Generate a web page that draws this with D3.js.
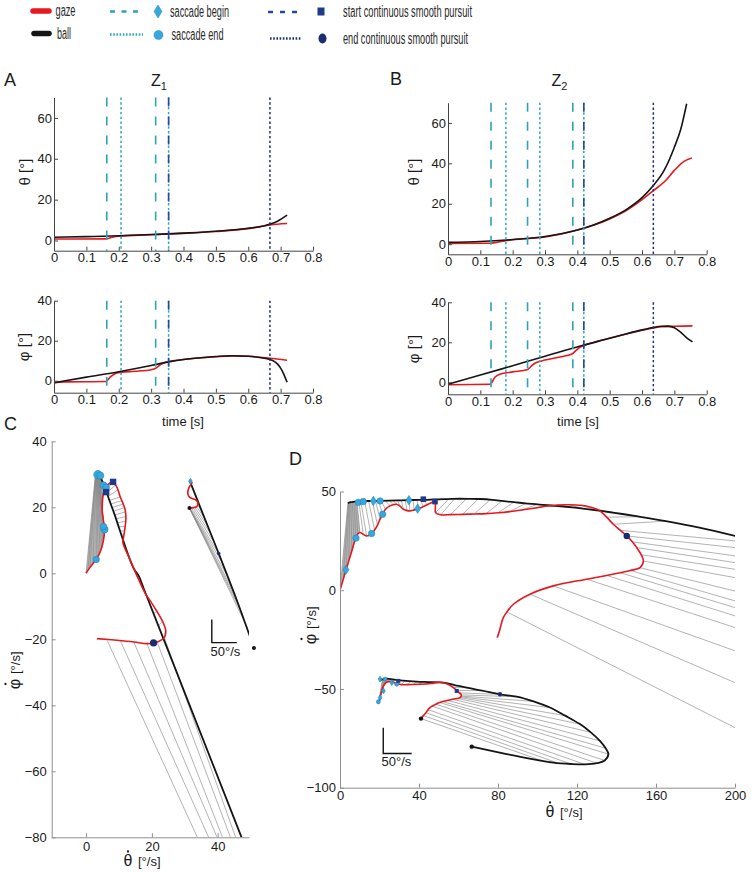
<!DOCTYPE html>
<html><head><meta charset="utf-8">
<script src="https://cdn.jsdelivr.net/npm/d3@7"></script>
<style>body{margin:0;background:#fff}svg{display:block}</style>
</head><body>
<script>
// ================= DATA =================
const tickTimes=[0,0.1,0.2,0.3,0.4,0.5,0.6,0.7,0.8];
const thetaTicks=[0,20,40,60];
const phiTicks=[0,20,40];
const velTicksCx=[0,20,40];
const velTicksCy=[-80,-60,-40,-20,0,20,40];
const velTicksDx=[0,40,80,120,160,200];
const velTicksDy=[-100,-50,0,50];

// ---- Z1 (panel A) time series [t, deg]
const thetaBallA=[[0,1.6],[0.1,1.9],[0.2,2.3],[0.3,2.9],[0.4,3.6],[0.5,4.5],[0.6,6],[0.65,7.2],[0.69,9.4],[0.72,12.4]];
const thetaGazeA=[[0,0.7],[0.16,0.8],[0.18,1.6],[0.2,2.1],[0.3,2.8],[0.4,3.5],[0.5,4.4],[0.6,5.8],[0.667,7.6],[0.72,8.3]];
const phiBallA=[[0,-1],[0.1,1.8],[0.2,4.5],[0.3,7.6],[0.35,9.3],[0.4,10.6],[0.5,12.1],[0.55,12.5],[0.6,12.2],[0.64,11.5],[0.667,10.6],[0.68,9.7],[0.69,8.4],[0.7,6.3],[0.71,3.2],[0.72,-0.8]];
const phiGazeA=[[0,-1],[0.03,-0.6],[0.16,-0.4],[0.175,2],[0.19,3.6],[0.21,4.3],[0.25,4.7],[0.3,5.5],[0.315,6.3],[0.33,8.2],[0.345,9.2],[0.4,10.6],[0.5,12],[0.55,12.4],[0.6,12.2],[0.667,11.2],[0.72,10.2]];
const saccBeginA=[0.163,0.314];
const saccEndA=[0.207,0.354];
const pursuitStartA=[0.354];
const pursuitEndA=[0.667];

// ---- Z2 (panel B) time series
const thetaBallB=[[0,0.9],[0.1,1.3],[0.2,2.3],[0.3,3.8],[0.4,7],[0.45,9.5],[0.5,12.8],[0.55,17],[0.6,23],[0.635,29],[0.67,37],[0.7,48],[0.72,57],[0.738,69.5]];
const thetaGazeB=[[0,0.4],[0.13,0.5],[0.17,1.5],[0.2,2.2],[0.3,3.6],[0.4,7],[0.5,12.5],[0.55,16.5],[0.6,22],[0.635,26.5],[0.67,31],[0.7,36.5],[0.73,41],[0.754,42.6]];
const phiBallB=[[0,-1],[0.1,3.6],[0.2,8.3],[0.3,13],[0.42,18.6],[0.5,22],[0.55,24.2],[0.6,26.2],[0.635,27.4],[0.66,28],[0.68,28.1],[0.7,27.3],[0.72,25],[0.74,22],[0.756,20.2]];
const phiGazeB=[[0,-1.2],[0.13,-1],[0.145,2.5],[0.16,4],[0.2,5.2],[0.245,6.3],[0.26,8.5],[0.275,10],[0.29,10.7],[0.35,12.8],[0.385,14.3],[0.395,15.8],[0.41,17.8],[0.425,18.7],[0.5,22],[0.6,26],[0.635,27.2],[0.66,27.8],[0.7,28],[0.756,28.2]];
const saccBeginB=[0.133,0.246,0.386];
const saccEndB=[0.179,0.284,0.42];
const pursuitStartB=[0.42];
const pursuitEndB=[0.635];

// ---- Panel C, trial 1 (velocities, deg/s)
const gazeC1=[[0,0],[1.2,1.8],[3.1,4.2],[4.3,6.5],[5.2,9.5],[5.6,13.3],[5.2,16.5],[4.9,19.1],[5.1,23.1],[5.6,25.3],[6.3,26.4],[7.2,27.3],[8.2,27.7],[9.5,25.8],[10.4,23.1],[11.3,21],[11.9,19.1],[12.1,16.5],[11.8,13.5],[11.4,11],[11.2,9.3],[13.2,4.5],[15.8,-1.5],[18.2,-6.5],[19.6,-8.5],[21.5,-11.5],[23.2,-14.5],[24.2,-17.3],[23.8,-19.5],[21.6,-20.8],[20.5,-21.1],[18.5,-21.3],[14.5,-20.8],[9.4,-20.3],[3.3,-19.8]];
const ballC1=[[2.8,29.4],[3.4,29.9],[4.1,29.5],[4.6,28.6],[5.4,26.8],[6.3,24.4],[7.1,22.1],[7.9,19.9],[8.7,17.7],[9.5,15.3],[10.3,12.9],[11.1,10.5],[13,5.0],[14.5,1.4],[16,-0.8],[17.5,-4.6],[19,-8.4],[22,-16],[25,-23.6],[47,-79.4],[49,-84.5]];
const linksC1=[[0,0,2.8,29.4],[0.6,0.9,2.85,29.45],[1.2,1.8,2.9,29.5],[2.1,3,2.95,29.55],[3.1,4.2,3.0,29.6],[3.7,5.3,3.05,29.65],[4.3,6.5,3.1,29.7],[4.8,8,3.15,29.75],[5.2,9.5,3.2,29.8],[5.45,11.4,3.3,29.85],[5.6,13.3,3.4,29.9],[5.4,15,3.5,29.9],[5.2,16.5,3.6,29.9],[5.0,17.8,3.7,29.85],[4.9,19.1,3.8,29.8],[4.95,21,3.95,29.7],[5.1,23.1,4.1,29.5],[5.4,24.5,4.3,29.2],[5.6,25.3,4.6,28.6],
[7.2,27.3,5.4,26.8],[8.2,27.7,5.9,25.6],[9.0,26.8,6.3,24.4],[9.7,25.3,6.7,23.3],[10.4,23.1,7.1,22.1],[10.9,22,7.5,21],[11.3,21,7.9,19.9],[11.7,19.9,8.3,18.8],[11.9,18.6,8.7,17.7],[12.1,17.2,9.1,16.5],[12.1,15.8,9.5,15.3],[11.9,14.2,9.9,14.1],[11.7,12.8,10.3,12.9],[11.5,11.6,10.7,11.7],[11.3,10.3,11.1,10.5],
[13.2,4.5,13,5.0],[15.8,-1.5,15.5,0.4],[18.2,-6.5,17.5,-4.6],[19.6,-8.5,19,-8.4],[21.5,-11.5,20.5,-12.2],[23.2,-14.5,22,-16],[24.2,-17.3,23.5,-19.8],
[23.8,-19.5,50.8,-95],[21.6,-20.8,49.5,-95],[18.5,-21.3,47.3,-95],[14.5,-20.8,46.2,-95],[10.4,-20.4,44,-95],[6.4,-20.3,40.7,-95]];
const bandC1=19;
// ---- Panel C, trial 2 (inset, scale bar 50 deg/s)
const gazeC2=[[32.3,27.6],[31.2,25.8],[30.9,24.2],[31.5,23],[33.2,22.3],[34.0,21.3],[33.6,20.2],[32.5,19.9],[31.4,19.8]];
const ballC2=[[31.6,27.8],[35,19.2],[40.3,6],[46,-8.7],[51,-22.6]];
const linksC2=[[33.6,21.2,34.2,21.5],[33.9,20.6,35.2,19],[33.5,20.2,36.2,16.5],[33.0,20.0,37.2,14],[32.5,19.9,38.2,11.5],[32.0,19.85,39.2,8.9],[31.6,19.8,40.3,6],[31.4,19.8,41.5,3],[31.4,19.8,43,-1],[31.4,19.8,44.5,-5],[31.4,19.8,46,-8.7],[31.4,19.8,47.5,-12.5],[31.4,19.8,49,-16.5]];
const markersC=[
 {k:'se',x:3.6,y:29.9,r:4.2},{k:'se',x:4.3,y:29.6,r:3.6},{k:'se',x:5.3,y:26.7,r:3.4},{k:'se',x:6.1,y:26.0,r:3.4},
 {k:'ps',x:6.1,y:24.6,r:3.2},{k:'ps',x:8.2,y:27.7,r:3.2},{k:'se',x:5.6,y:13.3,r:3.6},{k:'se',x:5.3,y:14.2,r:3.2},
 {k:'se',x:3.1,y:4.2,r:3.2},{k:'pe',x:20.5,y:-21.1,r:3.6},
 {k:'sb',x:31.7,y:27.9,r:2},{k:'pe',x:40.3,y:6,r:1.8},{k:'dot',x:31.4,y:19.8,r:2},{k:'dot',x:51,y:-22.6,r:2}];
const scaleBarC=[[38.2,-14],[38.2,-21],[45.8,-21]];

// ---- Panel D, trial 1
const gazeD1=[[0,0],[1.5,5],[3,10.1],[4.5,15],[6,20],[7.2,24],[8.1,26.6],[9,28.5],[10.1,29.2],[11.8,28.3],[13.5,27.5],[15.7,28.3],[17.5,30.5],[19,33],[20.3,36],[21.6,38.5],[23,41],[25.3,42.7],[27,43.3],[28.7,43.5],[30.5,42.5],[32.1,41],[34,40.3],[35.4,40.2],[37.5,40.7],[39.7,41.3],[42,42.3],[43.9,43.2],[46,44.2],[48.1,45],[48.3,42],[48.4,39.3],[51,38.2],[56,38.3],[62,38.4],[68,38.6],[74,38.8],[80,39.2],[86,39.8],[92,40.6],[98,41.5],[104,42.5],[110,43.2],[116,43.3],[122,43],[127,42],[131.6,40.2],[135,37],[138.4,33.4],[142,30.3],[145.2,27.5],[148,24.5],[150.2,21.6],[152.5,18],[153.6,14.8],[151.9,11.4],[147,10],[141.8,8.9],[135,7.5],[124.9,5.6],[108,2.2],[96.2,-2],[87.8,-7.1],[84.5,-11],[82.7,-13.9],[80.7,-20.6],[79.6,-24]];
const ballD1=[[4,44],[4.6,44.4],[5.5,44.6],[7,44.8],[8.6,45],[10.5,45.1],[14.5,45.2],[19.5,45.3],[25,45.4],[31,45.5],[37,45.7],[43,45.8],[48,46],[52,46.1],[57,46.3],[65,46.3],[71,46.2],[77,45.8],[83,45.1],[89,44.5],[95,43.9],[101,43.4],[107,42.9],[113,42.4],[119,41.8],[125,41.1],[131,40.3],[137,39.5],[143,38.6],[150,37.5],[165,35],[182,31.7],[200,27.5]];
const linksD1=[[0,0,4,44],[1.5,5,4.3,44.2],[3,10.1,4.6,44.4],[4.5,15,5,44.5],[6,20,5.5,44.6],[7.2,24,6.2,44.7],[8.1,26.6,7,44.8],[9,28.5,7.8,44.9],[10.1,29.2,8.6,45],
[11.8,28.3,9.5,45],[13.5,27.5,10.5,45.1],[15.7,28.3,12.5,45.1],[17.5,30.5,14.5,45.2],[19,33,16.3,45.2],[20.3,36,18,45.2],[21.6,38.5,19.5,45.3],[23,41,21,45.3],[25.3,42.7,23,45.4],[27,43.3,25,45.4],[28.7,43.5,27,45.5],[30.5,42.5,29,45.5],[32.1,41,31,45.5],[34,40.3,33,45.6],[35.4,40.2,35,45.6],[37.5,40.7,37,45.7],[39.7,41.3,39,45.7],[42,42.3,41,45.8],[43.9,43.2,43,45.8],
[48.4,39.3,55,46.2],[51,38.2,58,46.3],[56,38.3,64,46.3],[62,38.4,70,46.2],[68,38.6,76,45.9],[74,38.8,82,45.2],[80,39.2,88,44.6],[86,39.8,94,44],[92,40.6,100,43.5],[98,41.5,106,43],
[104,42.5,112,42.5],[110,43.2,118,41.9],[116,43.3,124,41.2],[122,43,130,40.4],[127,42,136,39.6],[131.6,40.2,143,38.6],[135,37,152,37.2],[138.4,33.4,165,35],[142,30.3,200,25],[145.2,27.5,200,21.6],[148,24.5,200,17.4],[150.2,21.6,200,14],[152.5,18,200,10.6],[153.6,14.8,200,6.4],[151.9,11.4,200,-0.4],[147,10,200,-5.4],[141.8,8.9,200,-8.8],[135,7.5,200,-13],[124.9,5.6,200,-18.9],[108,2.2,200,-30.7],[96.2,-2,200,-46.8],[84.5,-11,200,-69.6]];
const bandD1=9;
// ---- Panel D, trial 2 (inset, scale bar 50 deg/s)
const gazeD2=[[19.4,-57.5],[20.3,-54.4],[21,-51.5],[22,-48.5],[23.5,-46.6],[26,-46.3],[28.7,-47.2],[31,-47.8],[34,-47.8],[40,-47.6],[46,-47.2],[50.6,-46.6],[54,-47.4],[57.4,-49.3],[59.5,-51.2],[61.4,-53],[60.8,-54.4],[57,-55.2],[52,-56.4],[48.5,-57.7],[45.5,-59.5],[43.5,-62],[42.2,-63.5],[41,-65]];
const ballD2=[[20.5,-45.5],[22,-45],[24,-44.8],[27,-45.2],[30.4,-45.6],[38.8,-46.3],[45,-46.5],[52.3,-46.8],[58,-48],[64.1,-49.3],[72,-50.8],[81,-52.7],[89.5,-53.9],[98,-56.3],[106.3,-59.4],[114,-63.5],[121.5,-67.8],[127,-72],[131.6,-76.3],[134.5,-80],[135.9,-83],[134,-86.2],[130,-87.6],[124,-88.2],[117,-88],[108,-87.3],[96,-85.3],[84.4,-83],[66.7,-79.2]];
const linksD2=[[19.4,-57.5,21.5,-45],[20,-55.5,22,-45],[20.5,-53.5,22.5,-44.9],[21,-51.5,23,-44.8],[21.5,-50,23.5,-44.8],[22,-48.5,24,-44.8],[23,-47.2,25,-45],[24.5,-46.5,26,-45.1],
[26,-46.3,28,-45.3],[28.7,-47.2,30.4,-45.6],[31,-47.8,33,-45.8],[34,-47.8,36,-46],[37,-47.7,39,-46.3],[40,-47.6,42,-46.4],[43,-47.4,45,-46.5],[46,-47.2,48,-46.6],[48.5,-46.9,51,-46.7],
[50.6,-46.6,54,-47.2],[54,-47.4,58,-48],[57.4,-49.3,64,-49.3],[59,-50.8,72,-50.8],[60.5,-52,81,-52.7],[61.3,-53,90,-54],[61.4,-53.6,98,-56.3],[61.2,-54,106,-59.4],[60.8,-54.4,114,-63.5],[59.5,-54.8,121.5,-67.8],[57,-55.2,127,-72],[54.5,-55.8,131.6,-76.3],[52,-56.4,134.5,-80],[50.6,-56.9,135.9,-83],[48.5,-57.7,134,-86.2],[46.5,-58.6,130,-87.6],[44.7,-60.5,124,-88.2],[43.5,-62,117,-88],[42.3,-63.5,110,-87.4],[41,-65,102,-86.2]];
const bandD2=8;
const markersD=[
 {k:'sb',x:3,y:10.4,r:3.2},{k:'se',x:8.1,y:26.4,r:3.2},{k:'se',x:9.3,y:44.5,r:3.2},{k:'se',x:11.8,y:44.9,r:3.2},
 {k:'sb',x:16.9,y:45.2,r:3.2},{k:'se',x:20.3,y:45.2,r:3.2},{k:'se',x:16,y:28.7,r:3.2},{k:'se',x:21.6,y:38.5,r:3.2},
 {k:'sb',x:34.9,y:45.6,r:3.2},{k:'sb',x:39.3,y:41.3,r:3.2},{k:'ps',x:42.2,y:46.1,r:2.8},{k:'ps',x:48.1,y:44.9,r:2.8},{k:'pe',x:145.2,y:27.5,r:3.2},
 {k:'sb',x:20.3,y:-45,r:2},{k:'se',x:22.8,y:-45,r:2},{k:'sb',x:26.2,y:-46.8,r:2},{k:'se',x:28.7,y:-47.6,r:2},{k:'sb',x:20.3,y:-54.4,r:2},{k:'se',x:19.4,y:-56.5,r:2},{k:'sb',x:22,y:-51,r:2},
 {k:'ps',x:29.5,y:-45.9,r:2},{k:'ps',x:59.1,y:-51,r:2},{k:'pe',x:81,y:-52.7,r:2.2},{k:'dot',x:41,y:-65,r:2.2},{k:'dot',x:66.7,y:-79.2,r:2.2}];
const scaleBarD=[[21.9,-69.6],[21.9,-82.7],[36.3,-82.7]];

// ================= STYLE =================
const FONT='"Liberation Sans", Arial, Helvetica, sans-serif';
const NARROW='"Liberation Sans Narrow","Arial Narrow","Liberation Sans",Arial,sans-serif';
const RED='#e3191f', BLACK='#151515', SB='#2fa3b6', SE='#2fa8c2', PS='#25489c', PE='#1c2f80';
const MLB='#37a7dd', MLBS='#1f86b8', MNAVY='#1f3a88', MNAVYC='#1b2d70';

const W=753,H=872;
const svg=d3.select('body').append('svg').attr('width',W).attr('height',H).attr('font-family',FONT);

function diamondPath(cx,cy,w,h){return `M${cx},${cy-h}L${cx+w},${cy}L${cx},${cy+h}L${cx-w},${cy}Z`;}
function drawMarker(g,m,x,y){
  const cx=x(m.x),cy=y(m.y),r=m.r;
  if(m.k==='sb') g.append('path').attr('d',diamondPath(cx,cy,r*0.95,r*1.45)).attr('fill',MLB).attr('stroke',MLBS).attr('stroke-width',0.6);
  else if(m.k==='se') g.append('circle').attr('cx',cx).attr('cy',cy).attr('r',r).attr('fill',MLB).attr('stroke',MLBS).attr('stroke-width',0.6);
  else if(m.k==='ps') g.append('rect').attr('x',cx-r).attr('y',cy-r).attr('width',2*r).attr('height',2*r).attr('fill',MNAVY);
  else if(m.k==='pe') g.append('circle').attr('cx',cx).attr('cy',cy).attr('r',r).attr('fill',MNAVYC);
  else g.append('circle').attr('cx',cx).attr('cy',cy).attr('r',r).attr('fill',BLACK);
}

// ================= LEGEND =================
const lg=svg.append('g');
function lgLine(x1,x2,yv,color,w,dash,cap){lg.append('line').attr('x1',x1).attr('x2',x2).attr('y1',yv).attr('y2',yv).attr('stroke',color).attr('stroke-width',w).attr('stroke-dasharray',dash||null).attr('stroke-linecap',cap||'butt');}
function lgText(xv,yv,t,len){lg.append('text').attr('x',xv).attr('y',yv).attr('font-family',NARROW).attr('font-size',16).attr('fill','#2a2a2a').attr('textLength',len).attr('lengthAdjust','spacingAndGlyphs').text(t);}
lgLine(33,49,11,RED,5.5,null,'round'); lgText(55.5,16,'gaze',20);
lgLine(34,49,33.5,BLACK,5.5,null,'round'); lgText(57,38.5,'ball',14);
lgLine(110,143,11.5,SB,2.6,'5,6.5'); lg.append('path').attr('d',diamondPath(158,11.5,4,6.5)).attr('fill',MLB).attr('stroke',MLBS).attr('stroke-width',0.5); lgText(170,16.5,'saccade begin',59);
lgLine(110,143,34.5,SE,2.6,'1.6,1.6'); lg.append('circle').attr('cx',158.5).attr('cy',35).attr('r',4.5).attr('fill',MLB).attr('stroke',MLBS).attr('stroke-width',0.5); lgText(171.5,40,'saccade end',52);
lgLine(268,301,12,PS,2.6,'5,7'); lg.append('rect').attr('x',317.5).attr('y',7.5).attr('width',7).attr('height',8).attr('fill',MNAVY); lgText(343,17,'start continuous smooth pursuit',129);
lgLine(270,301,38.5,PE,2.6,'1.6,1.6'); lg.append('ellipse').attr('cx',322.5).attr('cy',38.5).attr('rx',4).attr('ry',5).attr('fill',MNAVYC); lgText(343,44,'end continuous smooth pursuit',125);

// ================= TIME SERIES =================
const fmtT=d=>d===0?'0':d3.format('.1f')(d);
function styleAxis(a,color){
  a.attr('font-family',FONT).attr('font-size',13);
  a.selectAll('path.domain').attr('stroke',color).attr('stroke-width',1);
  a.selectAll('.tick line').attr('stroke',color);
  a.selectAll('.tick text').attr('fill','#1a1a1a');
}
function tsPanel(xr,yd,yr,yt,gaze,ball,vl){
  const x=d3.scaleLinear().domain([0,0.8]).range(xr);
  const y=d3.scaleLinear().domain(yd).range(yr);
  const g=svg.append('g');
  const line=d3.line().x(d=>x(d[0])).y(d=>y(d[1])).curve(d3.curveMonotoneX);
  g.append('path').attr('d',line(gaze)).attr('fill','none').attr('stroke',RED).attr('stroke-width',1.6);
  g.append('path').attr('d',line(ball)).attr('fill','none').attr('stroke',BLACK).attr('stroke-width',1.6);
  vl.forEach(v=>v.times.forEach(t=>{
    g.append('line').attr('x1',x(t)).attr('x2',x(t)).attr('y1',y(yd[1])).attr('y2',y(yd[0]))
     .attr('stroke',v.color).attr('stroke-width',v.w).attr('stroke-dasharray',v.dash);
  }));
  const xa=g.append('g').attr('transform',`translate(0,${yr[0]})`)
    .call(d3.axisBottom(x).tickValues(tickTimes).tickFormat(fmtT).tickSizeInner(-4).tickSizeOuter(0).tickPadding(2));
  const ya=g.append('g').attr('transform',`translate(${xr[0]},0)`)
    .call(d3.axisLeft(y).tickValues(yt).tickSizeInner(-4).tickSizeOuter(0).tickPadding(2));
  styleAxis(xa,'#444'); styleAxis(ya,'#444');
  return {x,y,g};
}
function vlines(sb,se,ps,pe){
  return [
    {times:sb,color:SB,w:1.6,dash:'9,10'},
    {times:se,color:SE,w:1.5,dash:'2.4,2.4'},
    {times:ps,color:PS,w:1.6,dash:'9,10'},
    {times:pe,color:PE,w:1.5,dash:'2.4,2.4'}];
}
tsPanel([54,313],[-5,70],[250.7,97.5],thetaTicks,thetaGazeA,thetaBallA,vlines(saccBeginA,saccEndA,pursuitStartA,pursuitEndA));
tsPanel([54,313],[-6,40],[392.7,300.7],phiTicks,phiGazeA,phiBallA,vlines(saccBeginA,saccEndA,pursuitStartA,pursuitEndA));
tsPanel([448,706.7],[-5,70],[254.3,102.7],thetaTicks,thetaGazeB,thetaBallB,vlines(saccBeginB,saccEndB,pursuitStartB,pursuitEndB));
tsPanel([448,706.7],[-6,40],[394.3,302.3],phiTicks,phiGazeB,phiBallB,vlines(saccBeginB,saccEndB,pursuitStartB,pursuitEndB));

// labels for time series
function txt(xv,yv,t,size,anchor,rot){
  const e=svg.append('text').attr('x',xv).attr('y',yv).attr('font-size',size).attr('fill','#1a1a1a').attr('text-anchor',anchor||'start');
  if(rot) e.attr('transform',`rotate(-90,${xv},${yv})`);
  e.text(t); return e;
}
txt(4,86,'A',18); txt(390,85,'B',18);
txt(151,86,'Z',16).append('tspan').attr('font-size',11).attr('dy',4).text('1');
txt(551.5,86,'Z',16).append('tspan').attr('font-size',11).attr('dy',4).text('2');
txt(30,172,'θ  [°]',15,'middle',true);
txt(29,347,'φ  [°]',15,'middle',true);
txt(419,172,'θ  [°]',15,'middle',true);
txt(419,349,'φ  [°]',15,'middle',true);
txt(183,426,'time [s]',13,'middle');
txt(578,426,'time [s]',13,'middle');

// ================= PHASE PLOTS =================
function phasePanel(id,xd,xr,yd,yr,xt,yt,padX,padY){
  const x=d3.scaleLinear().domain(xd).range(xr);
  const y=d3.scaleLinear().domain(yd).range(yr);
  const g=svg.append('g');
  svg.append('clipPath').attr('id',id).append('rect').attr('x',xr[0]).attr('y',yr[1]).attr('width',xr[1]-xr[0]).attr('height',yr[0]-yr[1]);
  const inner=g.append('g').attr('clip-path',`url(#${id})`);
  const xa=g.append('g').attr('transform',`translate(0,${yr[0]})`)
    .call(d3.axisBottom(x).tickValues(xt).tickSizeInner(-4).tickSizeOuter(0).tickPadding(padX));
  const ya=g.append('g').attr('transform',`translate(${xr[0]},0)`)
    .call(d3.axisLeft(y).tickValues(yt).tickSizeInner(-4).tickSizeOuter(0).tickPadding(padY));
  styleAxis(xa,'#8f8f8f'); styleAxis(ya,'#8f8f8f');
  return {x,y,g,inner};
}
function trajectory(P,gaze,ball,links,bandN){
  const {x,y,inner}=P;
  if(bandN>0){
    const b=links.slice(0,bandN);
    const pts=b.map(l=>[x(l[0]),y(l[1])]).concat(b.slice().reverse().map(l=>[x(l[2]),y(l[3])]));
    inner.append('path').attr('d',d3.line()(pts)+'Z').attr('fill','#b4b4b4').attr('stroke','none');
  }
  inner.selectAll(null).data(links).enter().append('line')
    .attr('x1',d=>x(d[0])).attr('y1',d=>y(d[1])).attr('x2',d=>x(d[2])).attr('y2',d=>y(d[3]))
    .attr('stroke','#8a8a8a').attr('stroke-width',0.65);
  const line=d3.line().x(d=>x(d[0])).y(d=>y(d[1])).curve(d3.curveCatmullRom.alpha(0.5));
  inner.append('path').attr('d',line(ball)).attr('fill','none').attr('stroke',BLACK).attr('stroke-width',1.8);
  inner.append('path').attr('d',line(gaze)).attr('fill','none').attr('stroke',RED).attr('stroke-width',1.6);
}
function scaleBar(P,pts,label,lx,ly){
  const {x,y,g}=P;
  g.append('path').attr('d',d3.line().x(d=>x(d[0])).y(d=>y(d[1]))(pts)).attr('fill','none').attr('stroke','#111').attr('stroke-width',1.4);
  g.append('text').attr('x',lx).attr('y',ly).attr('font-size',13).attr('fill','#1a1a1a').text(label);
}

// Panel C
const PC=phasePanel('clipC',[-10.44,49.5],[51.7,249],[-80,40],[837.3,441.3],velTicksCx,velTicksCy,4,5);
trajectory(PC,gazeC1,ballC1,linksC1,bandC1);
trajectory(PC,gazeC2,ballC2,linksC2,0);
markersC.forEach(m=>drawMarker(PC.g,m,PC.x,PC.y));
scaleBar(PC,scaleBarC,'50°/s',210.5,656);

// Panel D
const PD=phasePanel('clipD',[0,200],[340,735],[-100,50],[787.7,491.5],velTicksDx,velTicksDy,3,4);
trajectory(PD,gazeD1,ballD1,linksD1,bandD1);
trajectory(PD,gazeD2,ballD2,linksD2,bandD2);
markersD.forEach(m=>drawMarker(PD.g,m,PD.x,PD.y));
scaleBar(PD,scaleBarD,'50°/s',381.5,766);

txt(4,430,'C',18); txt(289,465,'D',18);

// velocity axis labels: symbol with a dot above, then unit
function dotLabel(tx,ty,rot,sym,unit){
  const g=svg.append('g').attr('transform',`translate(${tx},${ty})${rot?' rotate(-90)':''}`).attr('fill','#1a1a1a');
  g.append('text').attr('x',6).attr('y',0).attr('font-size',16).attr('text-anchor','middle').text(sym);
  g.append('circle').attr('cx',6).attr('cy',-14.5).attr('r',1.15).attr('fill','#1a1a1a');
  g.append('text').attr('x',16).attr('y',0).attr('font-size',13).text(unit);
}
dotLabel(122,866,false,'θ','[°/s]');
dotLabel(544,817,false,'θ','[°/s]');
dotLabel(20,690,true,'φ','[°/s]');
dotLabel(316,645,true,'φ','[°/s]');
</script>
</body></html>
